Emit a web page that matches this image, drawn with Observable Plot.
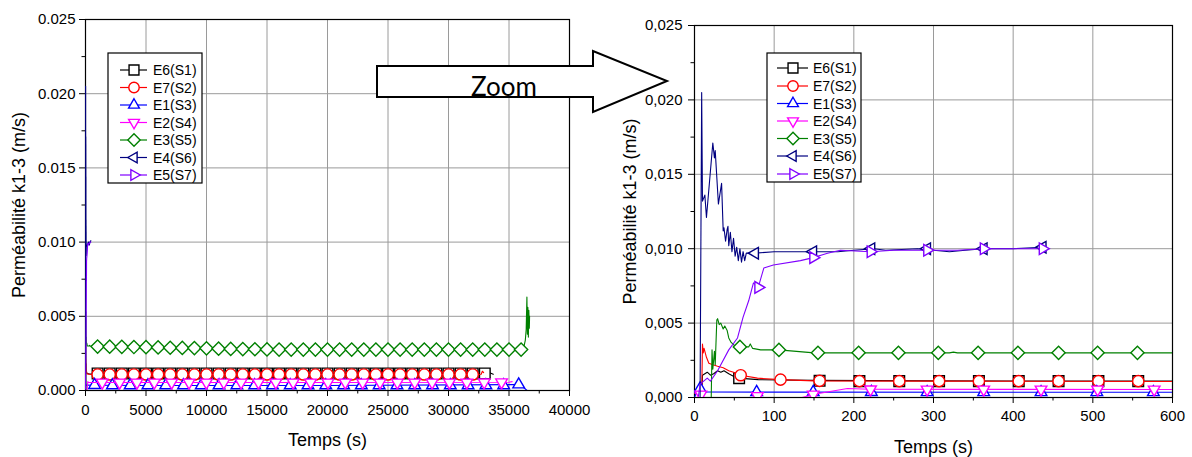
<!DOCTYPE html>
<html>
<head>
<meta charset="utf-8">
<script src="https://cdn.jsdelivr.net/npm/d3@7"></script>
<script src="https://cdn.jsdelivr.net/npm/@observablehq/plot@0.6"></script>
<style>
  html, body { margin: 0; padding: 0; background: white; }
  #wrap { position: relative; width: 1192px; height: 457px; overflow: hidden; background: white; }
  #wrap svg { position: absolute; top: 0; }
</style>
</head>
<body>
<div id="wrap"></div>
<script>
// ---------- series meta ----------
const seriesNames  = ["E6(S1)", "E7(S2)", "E1(S3)", "E2(S4)", "E3(S5)", "E4(S6)", "E5(S7)"];
const seriesColors = ["#000000", "#ff0000", "#0000ff", "#ff00ff", "#008000", "#000080", "#8000ff"];
const seriesSymbols = ["square", "circle", "triangleUp", "triangleDown", "diamond", "triangleLeft", "triangleRight"];

// ---------- line data [time s, k m/s] ----------
const e6Line = [[9,0],[10,0.0015],[13,0.0016],[16,0.0017],[20,0.0015],[24,0.0016],[29,0.0018],[33,0.0017],[37,0.0018],[43,0.0016],[50,0.0014],[55,0.0013],[80,0.0012],[150,0.00115],[300,0.00112],[600,0.00110],[1000,0.00112],[10000,0.00114],[20000,0.00115],[30000,0.00115],[33000,0.00115],[33400,0.0012],[33700,0.0011]];
const e7Line = [[9,0],[10,0.0036],[11,0.0030],[12,0.0033],[15,0.0027],[18,0.0023],[23,0.0022],[29,0.0021],[36,0.0020],[43,0.0018],[49,0.0017],[58,0.0015],[79,0.0013],[108,0.0012],[150,0.00112],[300,0.0011],[600,0.00108],[5000,0.00108],[20000,0.00108],[32000,0.00108],[32700,0.0011],[32800,0.0013],[32900,0.0012]];
const e1Line = [[0,0],[3,0.0004],[7,0.0007],[9,0.00038],[100,0.00036],[600,0.00035],[5000,0.00034],[20000,0.00034],[35800,0.0004],[36000,0.0003],[36200,0.0002],[36500,0]];
const e2Line = [[0,0.0003],[8,0.0002],[12,0],[135,0],[149,0.0002],[170,0.0004],[192,0.0006],[220,0.00055],[600,0.00054],[20000,0.00054],[35000,0.00056],[35260,0.0006]];
const e3Line = [[21,0],[22,0.0032],[23,0.0019],[25,0.0031],[26,0.0022],[28,0.0052],[29,0.0053],[31,0.0049],[33,0.0050],[36,0.0046],[38,0.0048],[41,0.0045],[43,0.0040],[46,0.0037],[50,0.0035],[57,0.0034],[68,0.0034],[70,0.0036],[73,0.0033],[83,0.0032],[106,0.0032],[150,0.0030],[320,0.0030],[325,0.00305],[330,0.0030],[600,0.0030],[1000,0.00296],[5000,0.00292],[10000,0.00284],[15000,0.00277],[20000,0.00276],[25000,0.00276],[30000,0.00276],[35000,0.00276],[36000,0.00276],[36220,0.0029],[36350,0.0034],[36420,0.0041],[36480,0.0063],[36520,0.0038],[36560,0.0056],[36600,0.0036],[36640,0.0054],[36680,0.0042],[36700,0.0050]];
const e4Line = [[0,0],[7,0],[9,0.0205],[10,0.0132],[13,0.0136],[15,0.0121],[23,0.0171],[25,0.0161],[26,0.0166],[30,0.0130],[34,0.0144],[36,0.0112],[37,0.0114],[39,0.0105],[41,0.0113],[42,0.0115],[43,0.0102],[45,0.0111],[47,0.0098],[49,0.0107],[51,0.0095],[53,0.0101],[55,0.0092],[57,0.0100],[59,0.0091],[61,0.0098],[63,0.0092],[65,0.0097],[76,0.0097],[100,0.0098],[150,0.0098],[180,0.0098],[200,0.0099],[225,0.0100],[240,0.0099],[280,0.0100],[300,0.0099],[320,0.0098],[340,0.0099],[363,0.0100],[400,0.0100],[437,0.0101],[442,0.0101]];
const e5Line = [[5,0.0001],[7,0.0009],[16,0.0013],[20,0.0011],[29,0.0018],[43,0.0032],[54,0.0040],[61,0.0054],[68,0.0065],[74,0.0077],[80,0.0074],[87,0.0087],[99,0.0089],[133,0.0092],[149,0.0094],[167,0.0097],[183,0.0099],[221,0.0098],[250,0.0099],[292,0.0099],[330,0.0099],[363,0.0100],[400,0.0100],[437,0.0100],[442,0.0100]];

// ---------- symbol positions, zoom panel (0-600 s) ----------
const e6MarksZoom = [[56,0.0013],[157,0.00112],[207,0.0011],[257,0.0011],[307,0.0011],[357,0.0011],[407,0.0011],[457,0.0011],[507,0.0011],[557,0.0011]];
const e7MarksZoom = [[58,0.0015],[108,0.0012],[157,0.00112],[207,0.0011],[257,0.0011],[307,0.0011],[357,0.0011],[407,0.0011],[457,0.0011],[507,0.0011],[557,0.0011]];
const e1MarksZoom = [[7,0.0006],[78,0.00036],[149,0.00036],[222,0.00036],[292,0.00035],[363,0.00035],[435,0.00035],[505,0.00035],[576,0.00035]];
const e2MarksZoom = [[8,0.0002],[79,0.0001],[149,0.0002],[221,0.00055],[292,0.00054],[363,0.00054],[435,0.00054],[506,0.00054],[577,0.00054]];
const e3MarksZoom = [[57,0.0034],[106,0.0032],[155,0.0030],[206,0.0030],[256,0.0030],[306,0.0030],[356,0.0030],[406,0.0030],[457,0.0030],[506,0.0030],[556,0.0030]];
const e4MarksZoom = [[76,0.0097],[149,0.0098],[222,0.0100],[292,0.0100],[363,0.0100],[437,0.0101]];
const e5MarksZoom = [[80,0.0074],[149,0.0094],[221,0.0098],[292,0.0099],[363,0.0100],[437,0.0100]];

// ---------- symbol positions, full panel (0-40000 s) ----------
const e6MarksFull = [[1000,0.00115],[2000,0.00115],[3000,0.00115],[4000,0.00115],[5000,0.00115],[6000,0.00115],[7000,0.00115],[8000,0.00115],[9000,0.00115],[10000,0.00115],[11000,0.00115],[12000,0.00115],[13000,0.00115],[14000,0.00115],[15000,0.00115],[16000,0.00115],[17000,0.00115],[18000,0.00115],[19000,0.00115],[20000,0.00115],[21000,0.00115],[22000,0.00115],[23000,0.00115],[24000,0.00115],[25000,0.00115],[26000,0.00115],[27000,0.00115],[28000,0.00115],[29000,0.00115],[30000,0.00115],[31000,0.00115],[32000,0.00115],[33000,0.00115]];
const e7MarksFull = [[1000,0.00108],[2000,0.00108],[3000,0.00108],[4000,0.00108],[5000,0.00108],[6000,0.00108],[7000,0.00108],[8000,0.00108],[9000,0.00108],[10000,0.00108],[11000,0.00108],[12000,0.00108],[13000,0.00108],[14000,0.00108],[15000,0.00108],[16000,0.00108],[17000,0.00108],[18000,0.00108],[19000,0.00108],[20000,0.00108],[21000,0.00108],[22000,0.00108],[23000,0.00108],[24000,0.00108],[25000,0.00108],[26000,0.00108],[27000,0.00108],[28000,0.00108],[29000,0.00108],[30000,0.00108],[31000,0.00108],[32000,0.00108]];
const e1MarksFull = [[750,0.00036],[2220,0.00034],[3690,0.00034],[5160,0.00034],[6630,0.00034],[8100,0.00034],[9570,0.00034],[11040,0.00034],[12510,0.00034],[13980,0.00034],[15450,0.00034],[16920,0.00034],[18390,0.00034],[19860,0.00034],[21330,0.00034],[22800,0.00034],[24270,0.00034],[25740,0.00034],[27210,0.00034],[28680,0.00034],[30150,0.00034],[31620,0.00034],[33090,0.00034],[34560,0.00034],[35800,0.0004]];
const e2MarksFull = [[1380,0.00054],[2815,0.00054],[4250,0.00054],[5685,0.00054],[7120,0.00054],[8555,0.00054],[9990,0.00054],[11425,0.00054],[12860,0.00054],[14295,0.00054],[15730,0.00054],[17165,0.00054],[18600,0.00054],[20035,0.00054],[21470,0.00054],[22905,0.00054],[24340,0.00054],[25775,0.00054],[27210,0.00054],[28645,0.00054],[30080,0.00054],[31515,0.00054],[32950,0.00055],[34385,0.00056]];
const e3MarksFull = [[1000,0.00296],[2000,0.00295],[3000,0.00294],[4000,0.00293],[5000,0.00292],[6000,0.0029],[7000,0.00288],[8000,0.00287],[9000,0.00286],[10000,0.00284],[11000,0.00282],[12000,0.0028],[13000,0.00279],[14000,0.00278],[15000,0.00277],[16000,0.00276],[17000,0.00276],[18000,0.00276],[19000,0.00276],[20000,0.00276],[21000,0.00276],[22000,0.00276],[23000,0.00276],[24000,0.00276],[25000,0.00276],[26000,0.00276],[27000,0.00276],[28000,0.00276],[29000,0.00276],[30000,0.00276],[31000,0.00276],[32000,0.00276],[33000,0.00276],[34000,0.00276],[35000,0.00276],[36000,0.00276]];
const e4MarksFull = [];
const e5MarksFull = [];

// ---------- ticks ----------
const fullXTicks = [0, 5000, 10000, 15000, 20000, 25000, 30000, 35000, 40000];
const fullXMinor = [2500, 7500, 12500, 17500, 22500, 27500, 32500, 37500];
const fullXGrid  = [5000, 10000, 15000, 20000, 25000, 30000, 35000];
const zoomXTicks = [0, 100, 200, 300, 400, 500, 600];
const zoomXMinor = [50, 150, 250, 350, 450, 550];
const zoomXGrid  = [100, 200, 300, 400, 500];
const yTicks = [0, 0.005, 0.010, 0.015, 0.020, 0.025];
const yMinor = [0.0025, 0.0075, 0.0125, 0.0175, 0.0225];
const yGrid  = [0.005, 0.010, 0.015, 0.020];

const lines = [e6Line, e7Line, e1Line, e2Line, e3Line, e4Line, e5Line];
const marksZoom = [e6MarksZoom, e7MarksZoom, e1MarksZoom, e2MarksZoom, e3MarksZoom, e4MarksZoom, e5MarksZoom];
const marksFull = [e6MarksFull, e7MarksFull, e1MarksFull, e2MarksFull, e3MarksFull, e4MarksFull, e5MarksFull];

// ---------- custom symbols (size = pi r^2) ----------
const rad = s => Math.sqrt(s / Math.PI);
function tri(angle) {
  return { draw(ctx, size) {
    const R = rad(size) * 1.2;
    for (let k = 0; k < 3; k++) {
      const a = angle + k * 2 * Math.PI / 3;
      const px = R * Math.cos(a), py = R * Math.sin(a);
      if (k === 0) ctx.moveTo(px, py); else ctx.lineTo(px, py);
    }
    ctx.closePath();
  }};
}
const SYM = {
  square: { draw(ctx, size) { const s = rad(size) * 0.95; ctx.moveTo(-s, -s); ctx.lineTo(s, -s); ctx.lineTo(s, s); ctx.lineTo(-s, s); ctx.closePath(); } },
  circle: { draw(ctx, size) { const r = rad(size); ctx.moveTo(r, 0); ctx.arc(0, 0, r, 0, 2 * Math.PI); ctx.closePath(); } },
  diamond: { draw(ctx, size) { const R = rad(size) * 1.18; ctx.moveTo(0, -R); ctx.lineTo(R, 0); ctx.lineTo(0, R); ctx.lineTo(-R, 0); ctx.closePath(); } },
  triangleUp: tri(-Math.PI / 2),
  triangleDown: tri(Math.PI / 2),
  triangleLeft: tri(Math.PI),
  triangleRight: tri(0)
};

const FONT = "'Liberation Sans', Arial, Helvetica, sans-serif";

function panel(cfg) {
  const m = [
    Plot.gridX(cfg.xGrid, {stroke: "#9a9a9a", strokeOpacity: 1, strokeWidth: 1}),
    Plot.gridY(yGrid, {stroke: "#9a9a9a", strokeOpacity: 1, strokeWidth: 1}),
    Plot.frame({stroke: "black", strokeWidth: 1.2})
  ];
  lines.forEach((ln, i) => {
    m.push(Plot.line(ln, {x: d => d[0], y: d => d[1], stroke: seriesColors[i], strokeWidth: 1.1, clip: true}));
    m.push(Plot.dot(cfg.marks[i], {x: d => d[0], y: d => d[1], r: 5.6, symbol: SYM[seriesSymbols[i]], stroke: seriesColors[i], strokeWidth: 1.4, fill: "white", clip: true}));
  });
  m.push(Plot.axisX(cfg.xTicks, {tickSize: 6, tickPadding: cfg.xPad, tickFormat: d => String(d), fontSize: 15, label: null}));
  m.push(Plot.axisX(cfg.xMinor, {tickSize: 3.5, tickFormat: () => "", label: null}));
  m.push(Plot.axisY(yTicks, {tickSize: 6, tickPadding: cfg.yPad, tickFormat: cfg.yFmt, fontSize: 15, label: null}));
  m.push(Plot.axisY(yMinor, {tickSize: 3.5, tickFormat: () => "", label: null}));
  m.push(Plot.text(["Temps (s)"], {text: d => d, frameAnchor: "bottom", dy: cfg.xTitleDy, fontSize: 18, lineAnchor: "middle", fill: "black"}));
  m.push(Plot.text(["Perméabilité k1-3 (m/s)"], {text: d => d, frameAnchor: "left", dx: cfg.yTitleDx, rotate: -90, fontSize: 18, textAnchor: "middle", lineAnchor: "middle", fill: "black"}));
  return Plot.plot({
    width: cfg.width, height: 457,
    marginLeft: cfg.ml, marginRight: cfg.mr, marginTop: cfg.mt, marginBottom: cfg.mb,
    x: {type: "linear", domain: cfg.xDomain},
    y: {type: "linear", domain: [0, 0.025]},
    style: {fontFamily: FONT, fontSize: "15px", color: "black", background: "transparent", overflow: "visible"},
    marks: m
  });
}

const fmtDot = d3.format(".3f");
const left = panel({
  width: 590, ml: 85, mr: 21, mt: 19, mb: 67,
  xDomain: [0, 40000], xTicks: fullXTicks, xMinor: fullXMinor, xGrid: fullXGrid,
  marks: marksFull, yFmt: d => fmtDot(d), xPad: 8, yPad: 4, xTitleDy: 50, yTitleDx: -66
});
const right = panel({
  width: 592, ml: 94, mr: 20, mt: 25, mb: 60,
  xDomain: [0, 600], xTicks: zoomXTicks, xMinor: zoomXMinor, xGrid: zoomXGrid,
  marks: marksZoom, yFmt: d => fmtDot(d).replace(".", ","), xPad: 7, yPad: 6, xTitleDy: 50, yTitleDx: -64
});
left.style.left = "0px";
right.style.left = "600px";
const wrap = document.getElementById("wrap");
wrap.appendChild(left);
wrap.appendChild(right);

// ---------- overlay: legends + zoom arrow ----------
const ov = d3.create("svg").attr("width", 1192).attr("height", 457)
  .style("left", "0px").style("pointer-events", "none");

function legend(box, rows, x1, x2, cx, tx) {
  const g = ov.append("g");
  g.append("rect").attr("x", box[0]).attr("y", box[1]).attr("width", box[2]).attr("height", box[3])
    .attr("fill", "white").attr("stroke", "black").attr("stroke-width", 1.2);
  seriesNames.forEach((name, i) => {
    const y = rows[i];
    g.append("line").attr("x1", x1).attr("x2", x2).attr("y1", y).attr("y2", y)
      .attr("stroke", seriesColors[i]).attr("stroke-width", 1.2);
    g.append("path").attr("transform", `translate(${cx},${y})`)
      .attr("d", d3.symbol(SYM[seriesSymbols[i]], Math.PI * 5.2 * 5.2)())
      .attr("fill", "white").attr("stroke", seriesColors[i]).attr("stroke-width", 1.4);
    g.append("text").attr("x", tx).attr("y", y).attr("dy", "0.36em")
      .attr("font-family", FONT).attr("font-size", 14).attr("fill", "black").text(name);
  });
}
legend([108, 53, 94, 130], [70, 87.5, 105, 122.5, 140, 157.5, 175], 120, 147, 134, 153);
legend([767, 53, 94, 129], [68, 86, 103.5, 121, 138.5, 156, 174], 777, 808, 793, 813);

ov.append("polygon")
  .attr("points", "377,66 593,66 593,51 667,81 593,112 593,97 377,97")
  .attr("fill", "white").attr("stroke", "black").attr("stroke-width", 2).attr("stroke-linejoin", "miter");
ov.append("text").attr("x", 504).attr("y", 95.5).attr("text-anchor", "middle")
  .attr("font-family", "Lato, 'Open Sans', sans-serif").attr("font-size", 26).attr("fill", "black").text("Zoom");

wrap.appendChild(ov.node());
</script>
</body>
</html>
